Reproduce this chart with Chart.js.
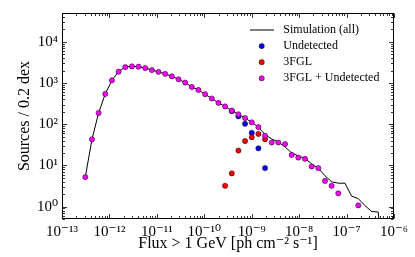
<!DOCTYPE html>
<html><head><meta charset="utf-8">
<script src="https://cdn.jsdelivr.net/npm/chart.js@4.4.1/dist/chart.umd.min.js"></script>
<style>html,body{margin:0;padding:0;background:#fff;}#wrap{width:415px;height:257px;}</style>
</head><body><div id="wrap"><canvas id="c" width="415" height="257"></canvas></div>
<script>
// log10 of flux bin centres
const logFlux = [-12.509,-12.368,-12.228,-12.088,-11.947,-11.807,-11.666,-11.526,-11.386,-11.245,
  -11.105,-10.965,-10.824,-10.684,-10.543,-10.403,-10.263,-10.122,-9.982,-9.842,
  -9.701,-9.561,-9.420,-9.280,-9.140,-8.999,-8.859,-8.719,-8.578,-8.438,
  -8.297,-8.157,-8.017,-7.876,-7.736,-7.596,-7.455,-7.315,-7.174,-7.034,
  -6.894,-6.753,-6.613,-6.473,-6.332,-6.192];
const simulationAll = [5.2,43,188,543,1162,1885,2434,2530,2489,2303,
  2061,1865,1668,1452,1229,1023,801,678,534,421,
  329,270,213,174,141,111,85,56,43.8,37,
  28,20,17,14.8,10.9,8.5,5.6,4.0,3.7,3.7,
  1.8,1.56,1.06,0.76,0.74,0.01];
const undetected = [null,null,null,null,null,null,null,null,null,null,
  null,null,null,null,null,null,null,null,null,null,
  null,null,207,155,102,62,26,8.6,null,null,
  null,null,null,null,null,null,null,null,null,null,
  null,null,null,null,null,null];
const fgl3 = [null,null,null,null,null,null,null,null,null,null,
  null,null,null,null,null,null,null,null,null,null,
  null,3.2,6.4,22.9,39,48,58,43,null,null,
  null,null,null,null,null,null,null,null,null,null,
  null,null,null,null,null,null];
const fglPlusUndetected = [5.2,43,188,543,1162,1885,2434,2530,2489,2303,
  2061,1865,1668,1452,1229,1023,801,678,534,421,
  329,270,213,174,141,111,85,52,36,36,
  33,18,15.5,14.4,9.4,8.6,4.2,3.2,2.1,null,
  null,1.07,null,null,null,null];
const xTickExponents = [-13,-12,-11,-10,-9,-8,-7,-6];
const yTickExponents = [0,1,2,3,4];
const seriesLabels = ['Simulation (all)','Undetected','3FGL','3FGL + Undetected'];

const SUP = {'-':'\u207B','0':'\u2070','1':'\u00B9','2':'\u00B2','3':'\u00B3','4':'\u2074','5':'\u2075','6':'\u2076','7':'\u2077','8':'\u2078','9':'\u2079'};
const sup = n => String(n).split('').map(c => SUP[c]).join('');
const pts = arr => logFlux.map((lf,i) => ({x: Math.pow(10, lf), y: arr[i]})).filter(p => p.y !== null);
const SERIF = '"Liberation Serif", "DejaVu Serif", serif';

const framePlugin = {
  id: 'frameTicks',
  afterDraw(chart) {
    const {ctx, chartArea: a, scales: {x, y}} = chart;
    ctx.save();
    ctx.strokeStyle = '#000';
    ctx.lineWidth = 0.8;
    const L = Math.round(a.left) + 0.5, R = Math.round(a.right) - 0.5;
    const T = Math.round(a.top) + 0.5, B = Math.round(a.bottom) - 0.5;
    ctx.beginPath();
    for (let e = -13; e <= -6; e++) {
      for (let m = 1; m <= 9; m++) {
        const v = m * Math.pow(10, e);
        if (v < x.min * 0.999 || v > x.max * 1.001) continue;
        const px = Math.round(x.getPixelForValue(v)) + 0.5;
        const len = m === 1 ? 4.5 : 2.5;
        ctx.moveTo(px, B); ctx.lineTo(px, B - len);
        ctx.moveTo(px, T); ctx.lineTo(px, T + len);
      }
    }
    for (let e = -1; e <= 4; e++) {
      for (let m = 1; m <= 9; m++) {
        const v = m * Math.pow(10, e);
        if (v < y.min * 0.999 || v > y.max * 1.001) continue;
        const py = Math.round(y.getPixelForValue(v)) + 0.5;
        const len = m === 1 ? 4.5 : 2.5;
        ctx.moveTo(L, py); ctx.lineTo(L + len, py);
        ctx.moveTo(R, py); ctx.lineTo(R - len, py);
      }
    }
    ctx.stroke();
    ctx.lineWidth = 1;
    ctx.strokeRect(L, T, R - L, B - T);
    ctx.restore();
  }
};

const legendPlugin = {
  id: 'insideLegend',
  afterDraw(chart) {
    const {ctx, chartArea: a} = chart;
    const ds = chart.data.datasets;
    ctx.save();
    ctx.font = '12px ' + SERIF;
    ctx.textBaseline = 'middle';
    ctx.textAlign = 'left';
    ds.forEach((d, i) => {
      const yy = a.top + 17 + i * 16.1;
      if (d.showLine) {
        ctx.beginPath();
        ctx.moveTo(a.right - 144, yy); ctx.lineTo(a.right - 120, yy);
        ctx.strokeStyle = '#000'; ctx.lineWidth = 1; ctx.stroke();
      } else {
        ctx.beginPath();
        ctx.arc(a.right - 132.3, yy, d.pointRadius, 0, Math.PI * 2);
        ctx.fillStyle = d.backgroundColor; ctx.fill();
        ctx.strokeStyle = '#000'; ctx.lineWidth = 0.5; ctx.stroke();
      }
      ctx.fillStyle = '#000';
      ctx.fillText(d.label, a.right - 110.7, yy);
    });
    ctx.restore();
  }
};

const dot = (label, arr, color, order) => ({
  label, data: pts(arr), showLine: false, order,
  backgroundColor: color, borderColor: '#000', borderWidth: 0.5,
  pointRadius: 2.6, pointHoverRadius: 2.6
});

new Chart(document.getElementById('c'), {
  type: 'scatter',
  data: {
    datasets: [
      {label: seriesLabels[0], data: pts(simulationAll), showLine: true, order: 4,
       borderColor: '#000', borderWidth: 1, pointRadius: 0, backgroundColor: '#000', tension: 0},
      dot(seriesLabels[1], undetected, '#0000ff', 3),
      dot(seriesLabels[2], fgl3, '#ff0000', 2),
      dot(seriesLabels[3], fglPlusUndetected, '#ff00ff', 1)
    ]
  },
  options: {
    responsive: false, animation: false, devicePixelRatio: 1,
    layout: {padding: {top: 12, right: 21, left: 0, bottom: 0}},
    plugins: {legend: {display: false}, tooltip: {enabled: false}},
    scales: {
      x: {
        type: 'logarithmic', min: 1e-13, max: 1e-6,
        afterBuildTicks: s => { s.ticks = xTickExponents.map(e => ({value: Math.pow(10, e)})); },
        afterFit: s => { s.height = 38; },
        grid: {display: false, drawTicks: false},
        border: {display: false},
        ticks: {autoSkip: false, maxRotation: 0, padding: 4, color: '#000',
          font: {family: SERIF, size: 15},
          callback: v => '10' + sup(Math.round(Math.log10(v)))},
        title: {display: true, text: 'Flux > 1 GeV [ph cm\u207B\u00B2 s\u207B\u00B9]', color: '#000',
          font: {family: SERIF, size: 16}, padding: {top: 0, bottom: 4}}
      },
      y: {
        type: 'logarithmic', min: 0.5, max: 5e4,
        afterBuildTicks: s => { s.ticks = yTickExponents.map(e => ({value: Math.pow(10, e)})); },
        afterFit: s => { s.width = 62; },
        grid: {display: false, drawTicks: false},
        border: {display: false},
        ticks: {autoSkip: false, padding: 4, color: '#000',
          font: {family: SERIF, size: 15},
          callback: v => '10' + sup(Math.round(Math.log10(v)))},
        title: {display: true, text: 'Sources / 0.2 dex', color: '#000',
          font: {family: SERIF, size: 16}, padding: {top: 15, bottom: 0}}
      }
    }
  },
  plugins: [framePlugin, legendPlugin]
});
</script></body></html>
